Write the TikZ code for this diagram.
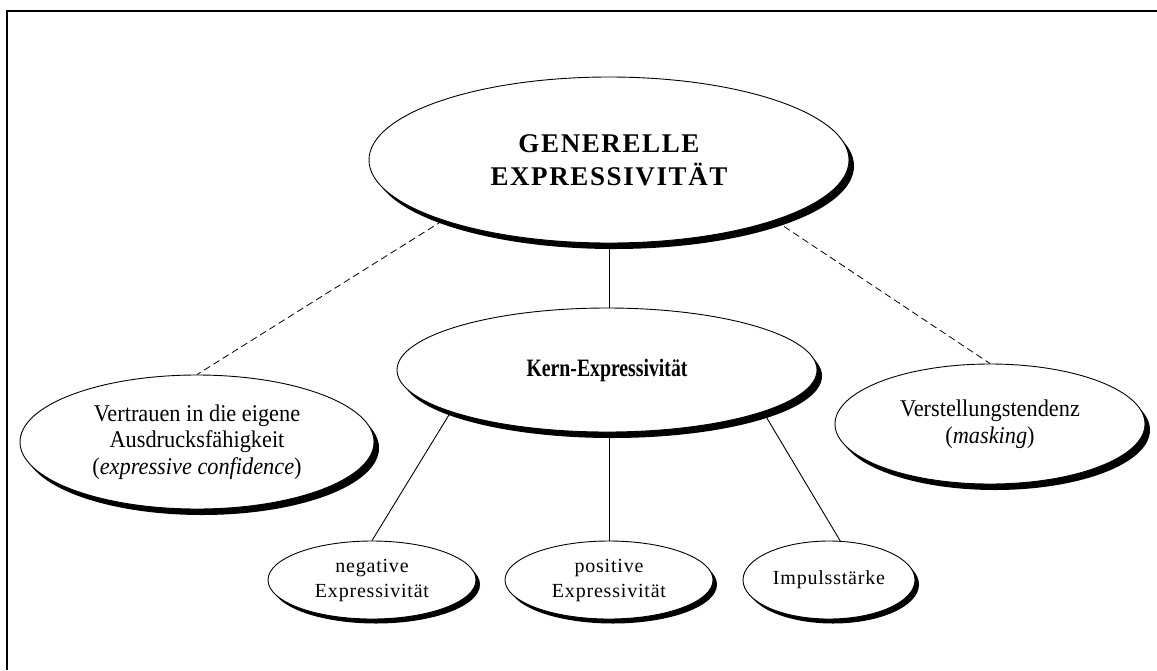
\documentclass[tikz,border=0pt]{standalone}
\usepackage{fontspec}
\usepackage{graphicx}
\setmainfont{Liberation Serif}
\newfontfamily\spacedrm[LetterSpace=6]{Liberation Serif}
\newfontfamily\spacedsm[LetterSpace=4]{Liberation Serif}
\newcommand\narrowA[1]{\scalebox{0.93}[1]{#1}}
\newcommand\narrowK[1]{\scalebox{0.79}[1]{#1}}
\usetikzlibrary{shapes.geometric,shadows}
\tikzset{
  ell/.style={ellipse, draw, fill=white, line width=0.9pt, inner sep=0pt, align=center,
    drop shadow={shadow xshift=5pt, shadow yshift=-6pt, fill=black, opacity=1}},
  sell/.style={ellipse, draw, fill=white, line width=0.9pt, inner sep=0pt, align=center,
    drop shadow={shadow xshift=4pt, shadow yshift=-4.5pt, fill=black, opacity=1}},
  conn/.style={line width=0.9pt},
  dconn/.style={line width=0.8pt, dash pattern=on 7pt off 4pt},
  frame/.style={line width=1.8pt},
  bigtxt/.style={font=\spacedrm\fontsize{27}{33}\selectfont\bfseries},
  kerntxt/.style={font=\fontsize{25}{28}\selectfont\bfseries},
  midtxt/.style={font=\fontsize{24}{26.5}\selectfont},
  smalltxt/.style={font=\spacedsm\fontsize{20}{25}\selectfont}
}
\begin{document}
\begin{tikzpicture}[x=1pt,y=-1pt]
\useasboundingbox (0,0) rectangle (1157,670);
\coordinate (fb) at (7,670);
\coordinate (fc) at (7,11);
\coordinate (fr) at (1157,11);
\draw[frame] (fb) -- (fc) -- (fr);

\node[ell, bigtxt, minimum width=480pt, minimum height=166pt] (g) at (609,160)
  {GENERELLE\\EXPRESSIVITÄT};
\node[ell, kerntxt, minimum width=420pt, minimum height=124pt] (k) at (607,370)
  {\narrowK{Kern-Expressivität}};
\node[ell, midtxt, minimum width=354pt, minimum height=134pt] (v) at (197,442)
  {\narrowA{Vertrauen in die eigene}\\\narrowA{Ausdrucksfähigkeit}\\\narrowA{(\textit{expressive confidence})}};
\node[ell, midtxt, minimum width=310pt, minimum height=120pt] (m) at (990,424)
  {\narrowA{Verstellungstendenz}\\\narrowA{(\textit{masking})}};
\node[sell, smalltxt, minimum width=208pt, minimum height=78pt] (n) at (372,580)
  {negative\\Expressivität};
\node[sell, smalltxt, minimum width=208pt, minimum height=78pt] (p) at (609,580)
  {positive\\Expressivität};
\node[sell, smalltxt, minimum width=172pt, minimum height=78pt] (i) at (829,580)
  {Impulsstärke};

\draw[dconn] (g.200) -- (v.north);
\draw[dconn] (g.340) -- (m.north);
\draw[conn] (g.south) -- (g.south |- k.north);
\draw[conn] (k.195) -- (n.north);
\draw[conn] (p.north |- k.south) -- (p.north);
\draw[conn] (k.345) -- (i.74);
\end{tikzpicture}
\end{document}
